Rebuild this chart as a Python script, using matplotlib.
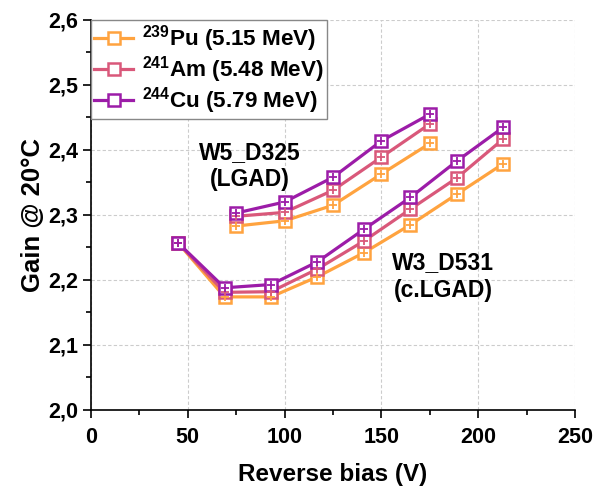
import matplotlib
matplotlib.use("Agg")
import matplotlib.pyplot as plt
from matplotlib.ticker import MultipleLocator, FuncFormatter

plt.rcParams['font.family'] = ['Liberation Sans', 'DejaVu Sans']
plt.rcParams['font.weight'] = 'bold'
plt.rcParams['mathtext.fontset'] = 'custom'
plt.rcParams['mathtext.bf'] = 'Liberation Sans:bold'
plt.rcParams['mathtext.rm'] = 'Liberation Sans:bold'
plt.rcParams['mathtext.default'] = 'bf'

# W5_D325 (LGAD)
x_w5 = [75, 100, 125, 150, 175]
pu_w5 = [2.283, 2.291, 2.315, 2.363, 2.410]
am_w5 = [2.298, 2.304, 2.338, 2.389, 2.440]
cu_w5 = [2.303, 2.320, 2.358, 2.414, 2.455]

# W3_D531 (c.LGAD)
x_w3 = [45, 69, 93, 117, 141, 165, 189, 213]
pu_w3 = [2.257, 2.174, 2.174, 2.205, 2.242, 2.285, 2.332, 2.379]
am_w3 = [2.257, 2.181, 2.182, 2.217, 2.260, 2.309, 2.357, 2.417]
cu_w3 = [2.257, 2.188, 2.193, 2.228, 2.278, 2.327, 2.383, 2.435]

labels = [r'$^{239}$Pu (5.15 MeV)', r'$^{241}$Am (5.48 MeV)', r'$^{244}$Cu (5.79 MeV)']
colors = ['#FFA33F', '#D9587A', '#9C1CA8']

fig = plt.figure(figsize=(5.96, 4.91), dpi=100)
ax = fig.add_axes([0.1527, 0.165, 0.812, 0.7943])

series = [(pu_w5, pu_w3), (am_w5, am_w3), (cu_w5, cu_w3)]
handles = []
for (yw5, yw3), c, lab in zip(series, colors, labels):
    for xs, ys in ((x_w5, yw5), (x_w3, yw3)):
        h, = ax.plot(xs, ys, '-', color=c, lw=2.3, marker='s', ms=8.5,
                     mfc='white', mec=c, mew=1.8, zorder=3)
        ax.plot(xs, ys, ls='none', marker='+', ms=6, mec=c, mew=1.3, zorder=4)
    handles.append(h)

ax.set_xlim(0, 250)
ax.set_ylim(2.0, 2.6)
ax.xaxis.set_major_locator(MultipleLocator(50))
ax.xaxis.set_minor_locator(MultipleLocator(25))
ax.yaxis.set_major_locator(MultipleLocator(0.1))
ax.yaxis.set_minor_locator(MultipleLocator(0.05))
ax.yaxis.set_major_formatter(FuncFormatter(lambda v, p: f"{v:.1f}".replace('.', ',')))

ax.grid(True, which='major', color='#CCCCCC', ls=(0, (3, 2)), lw=0.8)
ax.set_axisbelow(True)
for s in ('top', 'right'):
    ax.spines[s].set_visible(False)
for s in ('left', 'bottom'):
    ax.spines[s].set_linewidth(1.2)
ax.tick_params(which='major', direction='out', length=6, width=1.2, labelsize=15.5)
ax.tick_params(axis='x', which='major', pad=6)
ax.tick_params(which='minor', direction='out', length=3.5, width=1.2)
for t in ax.get_xticklabels() + ax.get_yticklabels():
    t.set_fontweight('bold')

ax.set_xlabel('Reverse bias (V)', fontsize=17.5, fontweight='bold', labelpad=11)
ax.set_ylabel('Gain @ 20°C', fontsize=18.5, fontweight='bold', labelpad=2)

ax.text(82, 2.375, 'W5_D325\n(LGAD)', fontsize=16.5, fontweight='bold',
        ha='center', va='center', linespacing=1.25)
ax.text(182, 2.205, 'W3_D531\n(c.LGAD)', fontsize=16.5, fontweight='bold',
        ha='center', va='center', linespacing=1.25)

leg = ax.legend(handles, labels, loc='upper left', bbox_to_anchor=(0, 1),
                borderaxespad=0, fontsize=16.2, fancybox=False, framealpha=1,
                handlelength=1.7, handletextpad=0.4, labelspacing=0.0,
                borderpad=0.15, edgecolor='#888888')
leg.get_frame().set_linewidth(1.0)

fig.savefig('out.png', dpi=100)
